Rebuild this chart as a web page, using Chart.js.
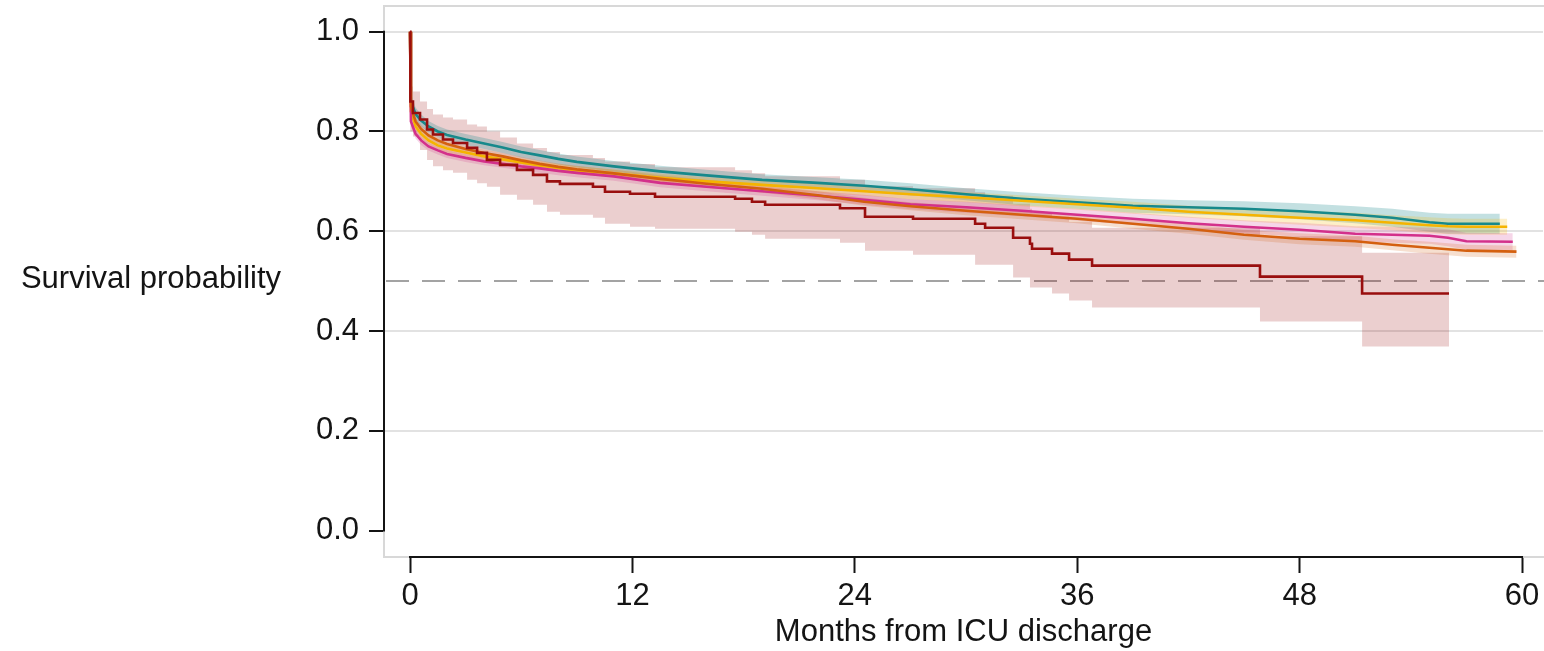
<!DOCTYPE html>
<html>
<head>
<meta charset="utf-8">
<script src="https://cdn.jsdelivr.net/npm/chart.js@4.4.1/dist/chart.umd.min.js"></script>
<style>
  html, body { margin: 0; padding: 0; background: #fff; }
  #wrap { position: relative; width: 1544px; height: 651px; }
</style>
</head>
<body>
<div id="wrap"><canvas id="km"></canvas></div>
<script>
const monthGrid = [0, 0.05, 0.3, 0.6, 1, 1.5, 2, 3, 4, 5, 6, 7, 8, 9, 11, 13.5, 16, 19, 22,
  24.5, 27, 30, 33, 36, 39, 42, 45, 48, 51, 53, 55, 56, 57];
// last follow-up month of teal, gold, magenta, orange
const curveEnds = [58.8, 59.2, 59.5, 59.7];

const tealSurv = [1, 0.86, 0.835, 0.822, 0.81, 0.80, 0.793, 0.784, 0.776, 0.768, 0.759, 0.752, 0.745, 0.739, 0.73, 0.72, 0.712, 0.703, 0.697, 0.691, 0.684, 0.674, 0.665, 0.658, 0.651, 0.648, 0.645, 0.64, 0.633, 0.627, 0.618, 0.615, 0.615, 0.615];
const tealLow  = [1, 0.845, 0.822, 0.81, 0.799, 0.789, 0.782, 0.773, 0.765, 0.757, 0.748, 0.741, 0.734, 0.728, 0.719, 0.709, 0.701, 0.692, 0.686, 0.679, 0.672, 0.662, 0.652, 0.645, 0.637, 0.634, 0.63, 0.624, 0.616, 0.609, 0.599, 0.595, 0.595, 0.595];
const tealHigh = [1, 0.875, 0.848, 0.834, 0.821, 0.811, 0.804, 0.795, 0.787, 0.779, 0.77, 0.763, 0.756, 0.75, 0.741, 0.731, 0.723, 0.714, 0.708, 0.703, 0.696, 0.686, 0.678, 0.671, 0.665, 0.662, 0.66, 0.656, 0.65, 0.645, 0.637, 0.635, 0.635, 0.635];

const goldSurv = [1, 0.84, 0.81, 0.795, 0.782, 0.772, 0.766, 0.758, 0.75, 0.744, 0.738, 0.732, 0.727, 0.722, 0.716, 0.707, 0.70, 0.693, 0.686, 0.68, 0.674, 0.668, 0.661, 0.654, 0.647, 0.639, 0.633, 0.627, 0.622, 0.617, 0.612, 0.61, 0.609, 0.609];
const goldLow  = [1, 0.83, 0.801, 0.786, 0.774, 0.764, 0.758, 0.75, 0.742, 0.736, 0.73, 0.724, 0.719, 0.714, 0.708, 0.699, 0.692, 0.684, 0.677, 0.671, 0.664, 0.658, 0.65, 0.643, 0.635, 0.627, 0.62, 0.613, 0.607, 0.602, 0.596, 0.594, 0.593, 0.593];
const goldHigh = [1, 0.85, 0.819, 0.804, 0.79, 0.78, 0.774, 0.766, 0.758, 0.752, 0.746, 0.74, 0.735, 0.73, 0.724, 0.715, 0.708, 0.702, 0.695, 0.689, 0.684, 0.678, 0.672, 0.665, 0.659, 0.651, 0.646, 0.641, 0.637, 0.632, 0.628, 0.626, 0.625, 0.625];

const magentaSurv = [1, 0.82, 0.795, 0.782, 0.77, 0.762, 0.755, 0.747, 0.74, 0.735, 0.73, 0.726, 0.721, 0.717, 0.71, 0.697, 0.689, 0.68, 0.671, 0.663, 0.654, 0.648, 0.641, 0.633, 0.625, 0.616, 0.609, 0.603, 0.595, 0.593, 0.591, 0.587, 0.58, 0.579];
const magentaLow  = [1, 0.81, 0.786, 0.773, 0.762, 0.754, 0.747, 0.739, 0.732, 0.727, 0.722, 0.717, 0.712, 0.708, 0.701, 0.688, 0.68, 0.671, 0.662, 0.653, 0.644, 0.637, 0.63, 0.621, 0.613, 0.603, 0.596, 0.589, 0.58, 0.577, 0.575, 0.57, 0.563, 0.562];
const magentaHigh = [1, 0.83, 0.804, 0.791, 0.778, 0.77, 0.763, 0.755, 0.748, 0.743, 0.738, 0.735, 0.73, 0.726, 0.719, 0.706, 0.698, 0.689, 0.68, 0.673, 0.664, 0.659, 0.652, 0.645, 0.637, 0.629, 0.622, 0.617, 0.61, 0.609, 0.607, 0.604, 0.597, 0.596];

const orangeSurv = [1, 0.85, 0.82, 0.805, 0.792, 0.782, 0.775, 0.765, 0.757, 0.75, 0.742, 0.735, 0.729, 0.724, 0.716, 0.705, 0.695, 0.685, 0.672, 0.659, 0.65, 0.641, 0.633, 0.625, 0.615, 0.605, 0.593, 0.585, 0.58, 0.573, 0.567, 0.564, 0.561, 0.559];
const orangeLow  = [1, 0.84, 0.812, 0.797, 0.785, 0.775, 0.768, 0.758, 0.75, 0.743, 0.735, 0.728, 0.722, 0.717, 0.709, 0.698, 0.687, 0.677, 0.664, 0.651, 0.642, 0.632, 0.624, 0.616, 0.605, 0.595, 0.583, 0.574, 0.569, 0.562, 0.555, 0.552, 0.549, 0.547];
const orangeHigh = [1, 0.86, 0.828, 0.813, 0.799, 0.789, 0.782, 0.772, 0.764, 0.757, 0.749, 0.742, 0.736, 0.731, 0.723, 0.712, 0.703, 0.693, 0.68, 0.667, 0.658, 0.65, 0.642, 0.634, 0.625, 0.615, 0.603, 0.596, 0.591, 0.584, 0.579, 0.576, 0.573, 0.571];

// small group: step curve, event months and values after each step
const redMonths = [0, 0.02, 0.16, 0.54, 0.92, 1.24, 1.78, 2.32, 3.08, 3.62, 4.15, 4.86, 5.77, 6.64, 7.39, 8.09, 9.87, 10.52, 11.87, 13.22, 17.54, 18.45, 19.16, 23.2, 24.55, 27.14, 30.49, 31.03, 32.54, 33.45, 33.56, 34.64, 35.56, 36.8, 45.86, 51.37, 56.06];
const redSurv = [1, 0.86, 0.837, 0.824, 0.804, 0.794, 0.784, 0.777, 0.767, 0.757, 0.743, 0.733, 0.723, 0.713, 0.70, 0.695, 0.689, 0.679, 0.675, 0.669, 0.665, 0.659, 0.653, 0.646, 0.629, 0.625, 0.615, 0.607, 0.587, 0.575, 0.565, 0.555, 0.543, 0.531, 0.509, 0.475, 0.475];
const redLow = [1, 0.80, 0.79, 0.763, 0.743, 0.73, 0.722, 0.717, 0.703, 0.696, 0.689, 0.673, 0.663, 0.653, 0.639, 0.633, 0.627, 0.615, 0.609, 0.605, 0.599, 0.593, 0.585, 0.577, 0.561, 0.553, 0.533, 0.533, 0.507, 0.487, 0.487, 0.475, 0.461, 0.447, 0.419, 0.369, 0.369];
const redHigh = [1, 0.89, 0.88, 0.86, 0.845, 0.834, 0.828, 0.824, 0.814, 0.81, 0.80, 0.788, 0.776, 0.767, 0.759, 0.753, 0.747, 0.74, 0.735, 0.728, 0.722, 0.716, 0.71, 0.703, 0.69, 0.686, 0.678, 0.671, 0.655, 0.645, 0.637, 0.629, 0.619, 0.607, 0.59, 0.557, 0.557];

const yTicks = [0, 0.2, 0.4, 0.6, 0.8, 1.0];
const xTicks = [0, 12, 24, 36, 48, 60];
const medianLine = 0.5;

const FONT = '"Liberation Sans", Arial, Helvetica, sans-serif';
const INK = '#141414';

function pts(months, vals) {
  return months.map((m, i) => ({ x: m, y: vals[i] }));
}

const groups = [
  { months: [...monthGrid, curveEnds[0]], surv: tealSurv, low: tealLow, high: tealHigh,
    line: '#17898b', band: 'rgba(23,137,139,0.26)', order: 4 },
  { months: [...monthGrid, curveEnds[1]], surv: goldSurv, low: goldLow, high: goldHigh,
    line: '#f5b400', band: 'rgba(245,180,0,0.22)', order: 3 },
  { months: [...monthGrid, curveEnds[2]], surv: magentaSurv, low: magentaLow, high: magentaHigh,
    line: '#d3308b', band: 'rgba(211,48,139,0.2)', order: 2 },
  { months: [...monthGrid, curveEnds[3]], surv: orangeSurv, low: orangeLow, high: orangeHigh,
    line: '#d4600f', band: 'rgba(212,96,15,0.2)', order: 1 },
  { months: redMonths, surv: redSurv, low: redLow, high: redHigh,
    line: '#990e0e', band: 'rgba(153,14,14,0.2)', order: 0, stepped: true },
];

const datasets = [];
groups.forEach((g, k) => {
  const step = g.stepped ? 'before' : false;
  const bandOrder = g.stepped ? 30 : 20 - k;
  datasets.push({ data: pts(g.months, g.high), borderWidth: 0, pointRadius: 0,
    fill: false, stepped: step, order: bandOrder });
  datasets.push({ data: pts(g.months, g.low), borderWidth: 0, pointRadius: 0,
    fill: '-1', backgroundColor: g.band, stepped: step, order: bandOrder });
});
groups.forEach(g => {
  datasets.push({ data: pts(g.months, g.surv), borderColor: g.line, borderWidth: 2.6,
    pointRadius: 0, fill: false, stepped: g.stepped ? 'before' : false, order: g.order });
});

const framePlugin = {
  id: 'frame',
  beforeDatasetsDraw(chart) {
    const { ctx, chartArea: a, scales: { y } } = chart;
    ctx.save();
    ctx.strokeStyle = '#d8d8d8';
    ctx.lineWidth = 2;
    ctx.beginPath();
    ctx.moveTo(chart.width, a.top);
    ctx.lineTo(a.left, a.top);
    ctx.lineTo(a.left, a.bottom);
    ctx.lineTo(chart.width, a.bottom);
    ctx.stroke();
    const yp = y.getPixelForValue(medianLine);
    ctx.strokeStyle = '#a3a3a3';
    ctx.setLineDash([23, 13]);
    ctx.beginPath();
    ctx.moveTo(a.left + 2, yp);
    ctx.lineTo(chart.width, yp);
    ctx.stroke();
    ctx.restore();
  },
  afterDraw(chart) {
    const { ctx, chartArea: a, scales: { x, y } } = chart;
    ctx.save();
    ctx.strokeStyle = INK;
    ctx.lineWidth = 2;
    ctx.beginPath();
    ctx.moveTo(a.left, y.getPixelForValue(yTicks[0]) + 1);
    ctx.lineTo(a.left, y.getPixelForValue(yTicks[yTicks.length - 1]) - 1);
    ctx.moveTo(x.getPixelForValue(xTicks[0]) - 1, a.bottom);
    ctx.lineTo(x.getPixelForValue(xTicks[xTicks.length - 1]) + 1, a.bottom);
    ctx.stroke();
    ctx.fillStyle = INK;
    ctx.font = '31px ' + FONT;
    ctx.textAlign = 'center';
    ctx.textBaseline = 'alphabetic';
    ctx.fillText('Survival probability', 151, 288);
    ctx.restore();
  }
};

new Chart(document.getElementById('km'), {
  type: 'line',
  data: { datasets },
  options: {
    responsive: true,
    maintainAspectRatio: false,
    animation: false,
    events: [],
    layout: { padding: { top: 6, right: 1, left: 0, bottom: 0 } },
    plugins: { legend: { display: false }, tooltip: { enabled: false } },
    scales: {
      x: {
        type: 'linear',
        min: -1.403,
        max: 61.13,
        afterBuildTicks: s => { s.ticks = xTicks.map(v => ({ value: v })); },
        afterFit: s => { s.height = 94; s.paddingLeft = 0; s.paddingRight = 0; },
        border: { display: false },
        grid: { drawOnChartArea: false, drawTicks: true, tickLength: 16, tickWidth: 2, tickColor: INK },
        ticks: { color: INK, font: { family: FONT, size: 31 }, padding: 5, maxRotation: 0,
          callback: v => String(v) },
        title: { display: true, text: 'Months from ICU discharge', color: INK,
          font: { family: FONT, size: 31, lineHeight: 1.2 }, padding: { top: 0, bottom: 0 } }
      },
      y: {
        type: 'linear',
        min: -0.0531,
        max: 1.0515,
        afterBuildTicks: s => { s.ticks = yTicks.map(v => ({ value: v })); },
        afterFit: s => { s.width = 384; s.paddingTop = 0; s.paddingBottom = 0; },
        border: { display: false },
        grid: {
          color: c => (c.tick && c.tick.value === 0 ? 'rgba(0,0,0,0)' : '#e2e2e2'),
          lineWidth: 2, tickLength: 15, tickWidth: 2, tickColor: INK
        },
        ticks: { color: INK, font: { family: FONT, size: 31 }, padding: 10,
          callback: v => v.toFixed(1) }
      }
    }
  },
  plugins: [framePlugin]
});
</script>
</body>
</html>
